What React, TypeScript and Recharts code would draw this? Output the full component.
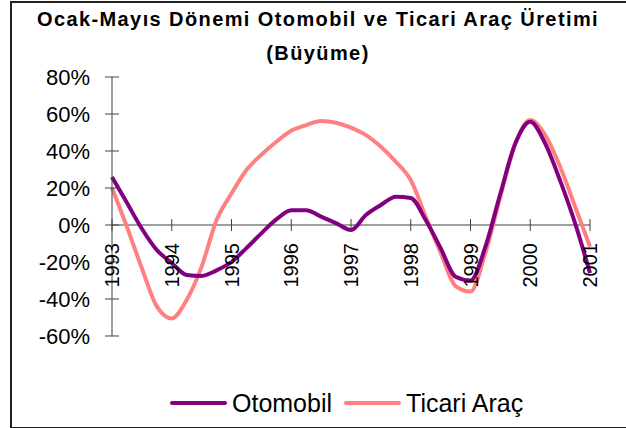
import React from 'react';
import {
  LineChart,
  Line,
  XAxis,
  YAxis,
  ReferenceLine,
  Legend
} from 'recharts';

// quarterly periods, 1993 Q1 .. 2001 Q1
const periods = [
  1993, 1993.25, 1993.5, 1993.75,
  1994, 1994.25, 1994.5, 1994.75,
  1995, 1995.25, 1995.5, 1995.75,
  1996, 1996.25, 1996.5, 1996.75,
  1997, 1997.25, 1997.5, 1997.75,
  1998, 1998.25, 1998.5, 1998.75,
  1999, 1999.25, 1999.5, 1999.75,
  2000, 2000.25, 2000.5, 2000.75,
  2001
];

const otomobil = [
  26, 12, -2, -13.5,
  -20.5, -27, -27.5, -24.5,
  -20, -12.5, -4.5, 3,
  8, 8, 4.5, 1,
  -2.7, 5.4, 10.8, 15.3,
  14.6, 2.7, -12.5, -28,
  -30, -11.7, 17, 44,
  55.8, 44, 24, 1,
  -26
];

const ticari = [
  20, -1, -23.4, -44,
  -50.5, -40.5, -22.5, 2.7,
  17, 29.7, 38, 45,
  51, 54, 56.2, 55.3,
  52.6, 48.6, 42.3, 34.2,
  24.3, 4.5, -15, -33,
  -36, -15, 15.3, 44,
  56.8, 48.6, 31.5, 10,
  -11.7
];

const years = [1993, 1994, 1995, 1996, 1997, 1998, 1999, 2000, 2001];
const yTicks = [-60, -40, -20, 0, 20, 40, 60, 80];

const data = periods.map((t, i) => ({ t, otomobil: otomobil[i], ticari: ticari[i] }));

const W = 626;
const H = 428;
const PLOT_LEFT = 112;
const PLOT_TOP = 77;
const PLOT_BOTTOM = 336;
const Y_MIN = -60;
const Y_MAX = 80;
const ZERO_Y = PLOT_TOP + (PLOT_BOTTOM - PLOT_TOP) * (Y_MAX / (Y_MAX - Y_MIN));

const FONT = '"Liberation Sans", Arial, sans-serif';
const PURPLE = '#800080';
const PINK = '#FF8080';
const AXIS = '#404040';

// x ticks sit on the zero line, labels rotated
const YearTick = (props: any) => {
  const { x, payload } = props;
  return (
    <g>
      <line x1={x} x2={x} y1={ZERO_Y - 6} y2={ZERO_Y + 6} stroke={AXIS} strokeWidth={1} />
      <text
        x={x}
        y={ZERO_Y + 18}
        transform={`rotate(-90, ${x}, ${ZERO_Y + 18})`}
        textAnchor="end"
        dominantBaseline="central"
        fontFamily={FONT}
        fontSize={20}
        fill="#000"
      >
        {payload.value}
      </text>
    </g>
  );
};

const PctTick = (props: any) => {
  const { y, payload } = props;
  return (
    <g>
      <line x1={PLOT_LEFT - 7} x2={PLOT_LEFT + 7} y1={y} y2={y} stroke={AXIS} strokeWidth={1} />
      <text
        x={PLOT_LEFT - 22}
        y={y}
        textAnchor="end"
        dominantBaseline="central"
        fontFamily={FONT}
        fontSize={22}
        fill="#000"
      >
        {payload.value}%
      </text>
    </g>
  );
};

const LegendContent = () => {
  const items = [
    { name: 'Otomobil', color: PURPLE },
    { name: 'Ticari Araç', color: PINK }
  ];
  return (
    <div style={{ height: 30, display: 'flex', alignItems: 'center', paddingLeft: 170 }}>
      {items.map((it) => (
        <div key={it.name} style={{ display: 'flex', alignItems: 'center', marginRight: 12 }}>
          <span style={{ display: 'inline-block', width: 57, height: 4, borderRadius: 2, background: it.color }} />
          <span style={{ marginLeft: 5, fontFamily: FONT, fontSize: 25, color: '#000' }}>{it.name}</span>
        </div>
      ))}
    </div>
  );
};

const App: React.FC = () => {
  return (
    <div style={{ position: 'absolute', left: 0, top: 0, width: W, height: H, overflow: 'hidden', background: '#fff' }}>
      <div
        style={{
          position: 'absolute',
          left: 10,
          top: 1,
          width: 640,
          height: 424,
          border: '2px solid #222'
        }}
      />
      <div
        style={{
          position: 'absolute',
          left: 10,
          top: 2,
          width: W - 10,
          textAlign: 'center',
          fontFamily: FONT,
          fontWeight: 'bold',
          fontSize: 20,
          letterSpacing: 1.4,
          lineHeight: '34px',
          color: '#000'
        }}
      >
        Ocak-Mayıs Dönemi Otomobil ve Ticari Araç Üretimi
        <br />
        (Büyüme)
      </div>
      <div style={{ position: 'absolute', left: 0, top: 0 }}>
        <LineChart
          width={W}
          height={H}
          data={data}
          margin={{ top: PLOT_TOP, right: 36, left: 0, bottom: 52 }}
        >
          <XAxis
            dataKey="t"
            type="number"
            domain={[1993, 2001]}
            ticks={years}
            interval={0}
            height={10}
            axisLine={false}
            tickLine={false}
            tick={<YearTick />}
          />
          <YAxis
            domain={[Y_MIN, Y_MAX]}
            ticks={yTicks}
            width={PLOT_LEFT}
            tickLine={false}
            tickSize={0}
            tickMargin={0}
            axisLine={{ stroke: AXIS, strokeWidth: 1 }}
            tick={<PctTick />}
          />
          <ReferenceLine y={0} stroke={AXIS} strokeWidth={1} />
          <Line
            type="monotone"
            dataKey="ticari"
            name="Ticari Araç"
            stroke={PINK}
            strokeWidth={4}
            dot={false}
            isAnimationActive={false}
          />
          <Line
            type="monotone"
            dataKey="otomobil"
            name="Otomobil"
            stroke={PURPLE}
            strokeWidth={4}
            dot={false}
            isAnimationActive={false}
          />
          <Legend
            verticalAlign="bottom"
            content={<LegendContent />}
            wrapperStyle={{ left: 0, top: 388, width: W }}
          />
        </LineChart>
      </div>
    </div>
  );
};

export default App;
